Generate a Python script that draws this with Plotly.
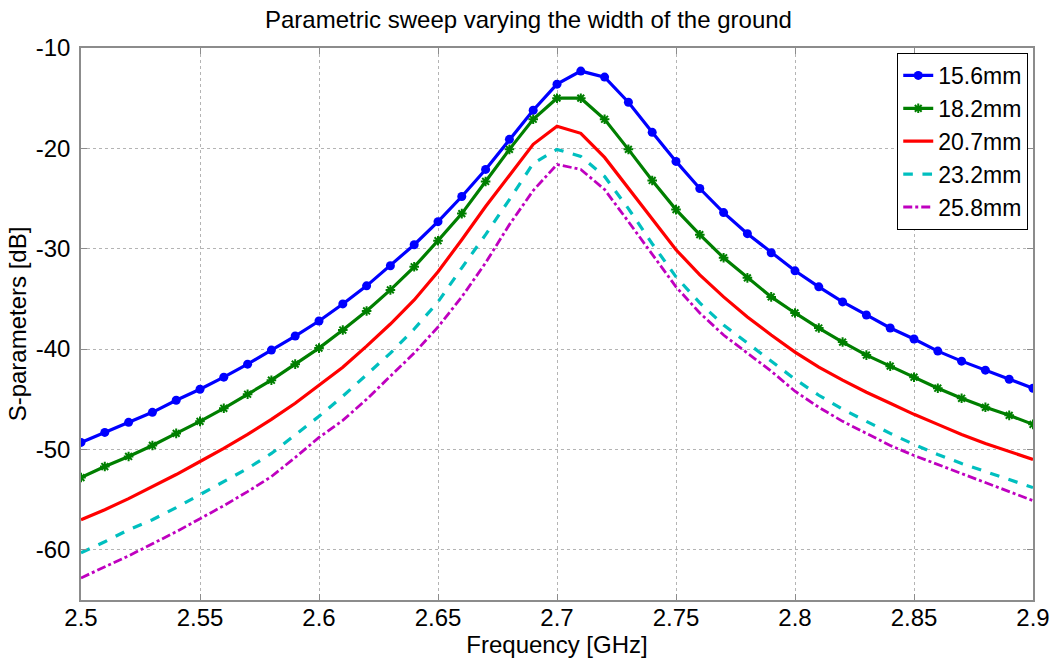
import plotly.graph_objects as go

freq = [2.50, 2.51, 2.52, 2.53, 2.54, 2.55, 2.56, 2.57, 2.58, 2.59,
        2.60, 2.61, 2.62, 2.63, 2.64, 2.65, 2.66, 2.67, 2.68, 2.69,
        2.70, 2.71, 2.72, 2.73, 2.74, 2.75, 2.76, 2.77, 2.78, 2.79,
        2.80, 2.81, 2.82, 2.83, 2.84, 2.85, 2.86, 2.87, 2.88, 2.89, 2.90]

s_156 = [-49.3, -48.3, -47.3, -46.3, -45.1, -44.0, -42.8, -41.5, -40.1, -38.7,
         -37.2, -35.5, -33.7, -31.7, -29.6, -27.3, -24.8, -22.1, -19.1, -16.2,
         -13.6, -12.3, -12.9, -15.4, -18.4, -21.3, -24.0, -26.4, -28.5, -30.4,
         -32.2, -33.8, -35.3, -36.6, -37.9, -39.0, -40.2, -41.2, -42.1, -43.0, -43.9]

s_182 = [-52.8, -51.7, -50.7, -49.6, -48.4, -47.2, -45.9, -44.5, -43.1, -41.5,
         -39.9, -38.1, -36.2, -34.1, -31.8, -29.2, -26.5, -23.3, -20.1, -17.1,
         -15.0, -15.0, -17.1, -20.1, -23.2, -26.1, -28.6, -30.9, -32.9, -34.8,
         -36.4, -37.9, -39.3, -40.6, -41.7, -42.8, -43.9, -44.9, -45.8, -46.6, -47.5]

s_207 = [-57.0, -56.0, -54.9, -53.7, -52.5, -51.2, -49.9, -48.5, -47.0, -45.4,
         -43.6, -41.8, -39.7, -37.5, -35.1, -32.3, -29.1, -25.8, -22.7, -19.6,
         -17.8, -18.5, -20.9, -24.0, -27.1, -30.1, -32.6, -34.8, -36.8, -38.6,
         -40.3, -41.8, -43.1, -44.3, -45.4, -46.5, -47.5, -48.5, -49.4, -50.2, -51.0]

s_232 = [-60.3, -59.2, -58.0, -57.0, -55.8, -54.5, -53.2, -51.9, -50.4, -48.6,
         -46.7, -44.7, -42.6, -40.4, -38.0, -35.3, -31.9, -28.6, -25.1, -21.5,
         -20.1, -20.8, -22.8, -26.0, -29.5, -32.8, -35.4, -37.6, -39.4, -41.2,
         -43.0, -44.6, -46.0, -47.2, -48.4, -49.5, -50.5, -51.4, -52.2, -53.0, -53.8]

s_258 = [-62.8, -61.7, -60.6, -59.4, -58.2, -56.9, -55.6, -54.2, -52.7, -50.8,
         -48.8, -47.1, -45.0, -42.7, -40.4, -37.8, -34.8, -31.4, -27.6, -24.2,
         -21.6, -22.1, -24.1, -27.3, -30.6, -33.8, -36.4, -38.6, -40.4, -42.2,
         -44.2, -45.8, -47.2, -48.4, -49.6, -50.6, -51.5, -52.4, -53.3, -54.2, -55.1]

names = ["15.6mm", "18.2mm", "20.7mm", "23.2mm", "25.8mm"]
x_ticks = [2.5, 2.55, 2.6, 2.65, 2.7, 2.75, 2.8, 2.85, 2.9]
x_tick_labels = ["2.5", "2.55", "2.6", "2.65", "2.7", "2.75", "2.8", "2.85", "2.9"]
y_ticks = [-60, -50, -40, -30, -20, -10]
y_tick_labels = ["-60", "-50", "-40", "-30", "-20", "-10"]

FONT = "Liberation Sans, Arial, sans-serif"

fig = go.Figure()
fig.add_trace(go.Scatter(x=freq, y=s_156, name=names[0], mode="lines+markers",
                         line=dict(color="#0000ff", width=3.2),
                         marker=dict(symbol="circle", size=9, color="#0000ff")))
fig.add_trace(go.Scatter(x=freq, y=s_182, name=names[1], mode="lines+markers",
                         line=dict(color="#007f00", width=3.2),
                         marker=dict(symbol="asterisk-open", size=8,
                                     line=dict(color="#007f00", width=2))))
fig.add_trace(go.Scatter(x=freq, y=s_207, name=names[2], mode="lines",
                         line=dict(color="#ff0000", width=3.2)))
fig.add_trace(go.Scatter(x=freq, y=s_232, name=names[3], mode="lines",
                         line=dict(color="#00bfbf", width=3.2, dash="dash")))
fig.add_trace(go.Scatter(x=freq, y=s_258, name=names[4], mode="lines",
                         line=dict(color="#bf00bf", width=2.8, dash="dashdot")))

axis_common = dict(showline=True, linecolor="#8c8c8c", linewidth=1.5, mirror="ticks",
                   ticks="inside", ticklen=6, tickcolor="#8c8c8c",
                   showgrid=True, gridcolor="#b4b4b4", griddash="dot", gridwidth=1,
                   zeroline=False, automargin=False,
                   tickfont=dict(family=FONT, size=24, color="black"))

fig.update_xaxes(range=[2.5, 2.9], tickvals=x_ticks, ticktext=x_tick_labels,
                 ticklabelstandoff=-5,
                 title=dict(text="Frequency [GHz]", standoff=2,
                            font=dict(family=FONT, size=24, color="black")),
                 **axis_common)
fig.update_yaxes(range=[-65, -10], tickvals=y_ticks, ticktext=y_tick_labels,
                 ticklabelstandoff=4,
                 title=dict(text="S-parameters [dB]", standoff=2,
                            font=dict(family=FONT, size=24, color="black")),
                 **axis_common)

fig.update_layout(
    template="none",
    width=1057, height=658,
    margin=dict(l=81, r=24, t=48, b=58, pad=0),
    plot_bgcolor="white", paper_bgcolor="white",
    title=dict(text="Parametric sweep varying the width of the ground",
               x=0.5, xanchor="center", y=0.97, yanchor="middle",
               font=dict(family=FONT, size=24, color="black")),
    legend=dict(x=0.995, xanchor="right", y=0.991, yanchor="top",
                bordercolor="black", borderwidth=1, bgcolor="white",
                font=dict(family=FONT, size=23, color="black"),
                tracegroupgap=0, itemwidth=30),
    showlegend=True,
)

fig.write_html("out.html", config={"displayModeBar": False},
               post_script="document.body.style.margin='0';document.body.style.padding='0';")
